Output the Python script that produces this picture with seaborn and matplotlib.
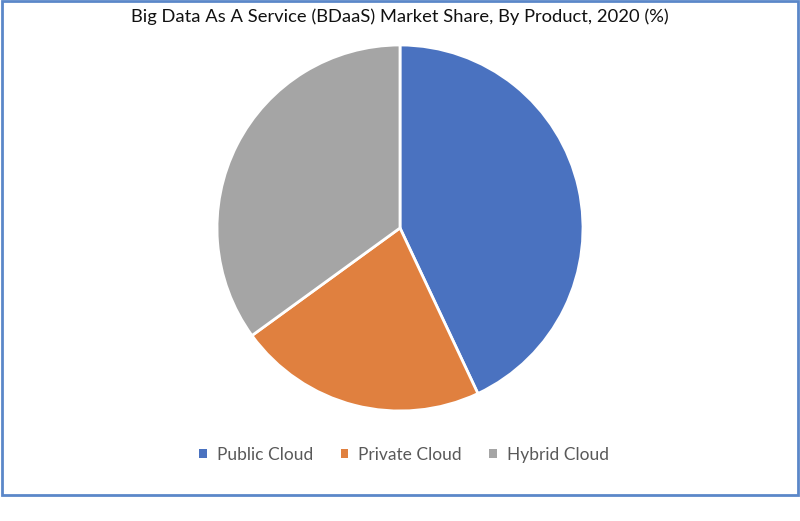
import matplotlib
matplotlib.use("Agg")
import matplotlib.pyplot as plt
import seaborn as sns
from matplotlib.patches import Rectangle

# data
categories = ["Public Cloud", "Private Cloud", "Hybrid Cloud"]
shares = [43.0, 22.0, 35.0]
colors = ["#4A72C0", "#E0803F", "#A5A5A5"]

sns.set_theme(style="white")
plt.rcParams['font.family'] = ['Lato', 'DejaVu Sans']

fig = plt.figure(figsize=(8, 5.21), dpi=100)
ax = fig.add_axes([0.27125, 0.21115, 0.4575, 0.7025])

wedges, _ = ax.pie(shares, colors=colors, startangle=90, counterclock=False,
                   radius=1.0, wedgeprops=dict(edgecolor="white", linewidth=2))
ax.set_xlim(-1, 1)
ax.set_ylim(-1, 1)
ax.set_aspect("equal")
ax.axis("off")

fig.text(0.5, 1 - 17 / 521, "Big Data As A Service (BDaaS) Market Share, By Product, 2020 (%)",
         ha="center", va="center", fontsize=13.2, color="#111111")

leg = fig.legend(wedges, categories, loc="center", bbox_to_anchor=(0.505, 1 - 455 / 521),
                 ncol=3, frameon=False, handlelength=0.45, handleheight=0.45,
                 handletextpad=0.55, columnspacing=1.6, fontsize=12.5)
for t in leg.get_texts():
    t.set_color("#595959")
for h in leg.legend_handles:
    h.set_edgecolor("none")

# blue frame around the chart area
fig.patches.append(Rectangle((0.002, 1 - 495 / 521), 0.996, 495 / 521 - 0.002,
                             transform=fig.transFigure, fill=False,
                             edgecolor="#5B87C9", linewidth=2))

fig.savefig("out.png", dpi=100)
